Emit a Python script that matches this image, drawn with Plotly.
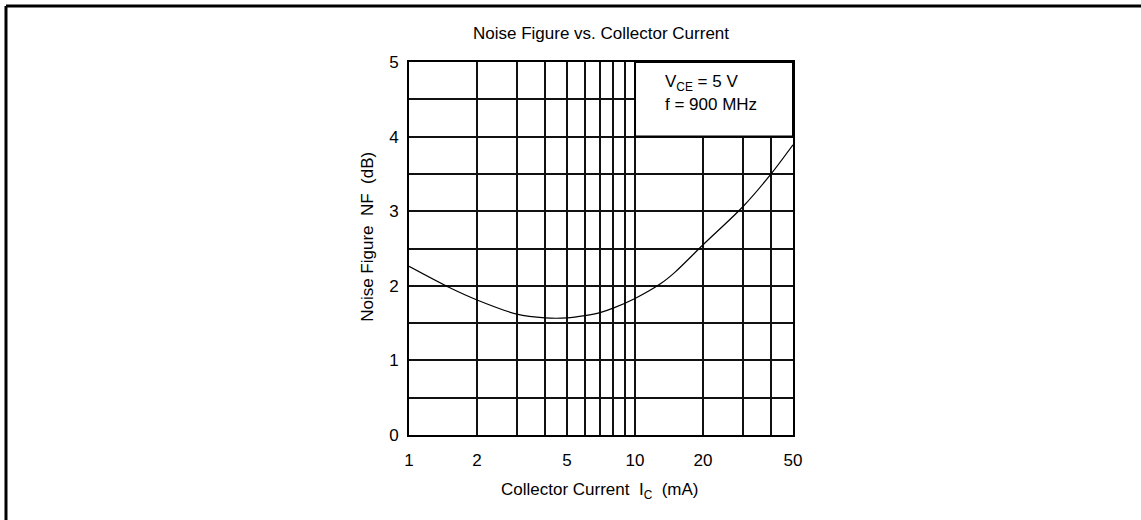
import plotly.graph_objects as go
import numpy as np

# Data
collector_current_mA = [1, 1.5, 2, 3, 4, 5, 6, 7, 8, 10, 13, 15, 20, 30, 40, 50]
noise_figure_dB = [2.26, 1.98, 1.81, 1.62, 1.57, 1.57, 1.60, 1.64, 1.70, 1.83, 2.03, 2.18, 2.55, 3.06, 3.50, 3.89]

x_tick_vals = [1, 2, 5, 10, 20, 50]
x_tick_text = ["1", "2", "5", "10", "20", "50"]
x_minor_vals = [3, 4, 6, 7, 8, 9, 30, 40]
y_tick_vals = [0, 1, 2, 3, 4, 5]

# condition box region (mA, dB)
box_x = [10, 50]
box_y = [4, 5]

FONT = "Liberation Sans, Arial, Helvetica, sans-serif"
FS = 17

fig = go.Figure()
fig.add_trace(go.Scatter(
    x=collector_current_mA, y=noise_figure_dB, mode="lines",
    line=dict(color="black", width=1.2, shape="spline", smoothing=0.8),
    hoverinfo="skip", showlegend=False,
))

grid_color = "#111111"
fig.update_xaxes(
    type="log", range=[0, np.log10(50)],
    tickvals=x_tick_vals, ticktext=x_tick_text,
    ticks="outside", ticklen=9, tickcolor="rgba(0,0,0,0)",
    showgrid=True, gridcolor=grid_color, gridwidth=2,
    minor=dict(tickmode="array", tickvals=x_minor_vals, showgrid=True,
               gridcolor=grid_color, gridwidth=2, ticks=""),
    showline=True, linecolor="black", linewidth=2, mirror=True,
    zeroline=False, tickfont=dict(family=FONT, size=FS, color="black"),
)
fig.update_yaxes(
    range=[0, 5], tickvals=y_tick_vals,
    ticks="outside", ticklen=5, tickcolor="rgba(0,0,0,0)",
    showgrid=True, gridcolor=grid_color, gridwidth=2,
    minor=dict(dtick=0.5, showgrid=True, gridcolor=grid_color, gridwidth=2, ticks=""),
    showline=True, linecolor="black", linewidth=2, mirror=True,
    zeroline=False, tickfont=dict(family=FONT, size=FS, color="black"),
)

# legend/condition box covering the top-right grid region
fig.add_shape(type="rect", xref="x", yref="y",
              x0=box_x[0], x1=box_x[1], y0=box_y[0], y1=box_y[1],
              fillcolor="white", line=dict(color="black", width=2), layer="above")

fig.add_annotation(text="V<sub>CE</sub> = 5 V", xref="paper", yref="paper",
                   x=0.661, y=0.944, xanchor="left", yanchor="middle", showarrow=False,
                   font=dict(family=FONT, size=FS, color="black"))
fig.add_annotation(text="f = 900 MHz", xref="paper", yref="paper",
                   x=0.661, y=0.885, xanchor="left", yanchor="middle", showarrow=False,
                   font=dict(family=FONT, size=FS, color="black"))

# axis titles
fig.add_annotation(text="Collector Current  I<sub>C</sub>  (mA)", xref="paper", yref="paper",
                   x=0.497, y=-0.150, xanchor="center", yanchor="middle", showarrow=False,
                   font=dict(family=FONT, size=FS, color="black"))
fig.add_annotation(text="Noise Figure  NF  (dB)", xref="paper", yref="paper",
                   x=-0.107, y=0.531, xanchor="center", yanchor="middle", showarrow=False,
                   textangle=-90, font=dict(family=FONT, size=FS, color="black"))

# outer frame (top and left)
fig.add_shape(type="line", xref="paper", yref="paper", x0=-1.0495, x1=1.91, y0=1.1501, y1=1.1501,
              line=dict(color="black", width=3))
fig.add_shape(type="line", xref="paper", yref="paper", x0=-1.0495, x1=-1.0495, y0=1.1501, y1=-0.24,
              line=dict(color="black", width=3))

fig.update_layout(
    width=1141, height=520,
    margin=dict(l=409, r=348, t=62, b=85),
    paper_bgcolor="white", plot_bgcolor="white",
    title=dict(text="Noise Figure vs. Collector Current", x=0.5, xref="paper",
               y=1 - 33 / 520, yref="container", xanchor="center", yanchor="middle",
               font=dict(family=FONT, size=FS, color="black")),
    showlegend=False,
)

fig.write_html("out.html",
               config={"displayModeBar": False},
               post_script="document.body.style.margin='0px';document.body.style.overflow='hidden';")
